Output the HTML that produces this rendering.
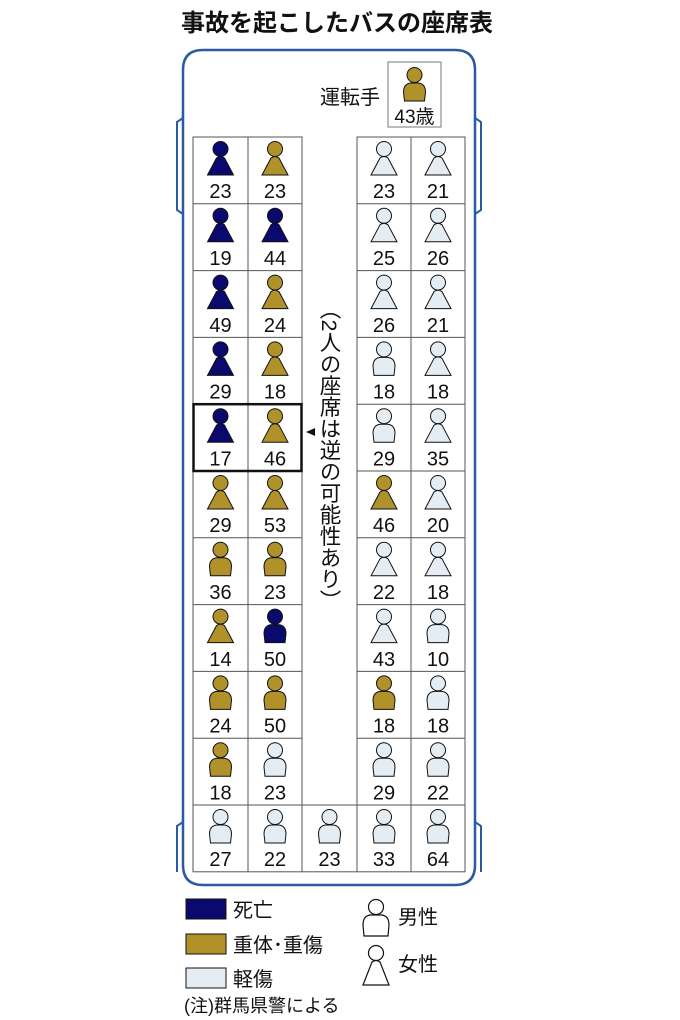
<!DOCTYPE html>
<html><head><meta charset="utf-8"><style>
html,body{margin:0;padding:0;background:#fff;}
body{width:680px;height:1020px;position:relative;overflow:hidden;font-family:"Liberation Sans","Noto Sans CJK JP",sans-serif;}
.v{position:absolute;left:316px;top:298px;writing-mode:vertical-rl;font-size:21.5px;line-height:26px;color:#111;font-family:"Liberation Sans","Noto Sans CJK JP",sans-serif;}
</style></head><body>
<svg width="680" height="1020" viewBox="0 0 680 1020" xmlns="http://www.w3.org/2000/svg" style="position:absolute;left:0;top:0">
<defs>
<g id="f"><circle cx="0" cy="12" r="7.5" stroke="#111" stroke-width="1"/><path d="M-13,38 L-4,21 Q0,18 4,21 L13,38 Z" stroke="#111" stroke-width="1"/></g>
<g id="m"><circle cx="0" cy="12" r="7.5" stroke="#111" stroke-width="1"/><path d="M-10,38 L-11,29 Q-11,21 -4,20 L4,20 Q11,21 11,29 L10,38 Z" stroke="#111" stroke-width="1"/></g>
</defs>
<text x="337" y="31" text-anchor="middle" font-size="24" font-weight="bold" fill="#111" font-family="Liberation Sans, Noto Sans CJK JP, sans-serif">事故を起こしたバスの座席表</text>
<!-- bus -->
<path d="M183,70 Q183,50 203,50 L455,50 Q475,50 475,70 L475,865 Q475,885 455,885 L203,885 Q183,885 183,865 Z" fill="none" stroke="#2a5aa0" stroke-width="2.5"/>
<path d="M183,118 L177,122 L177,210 L183,214" fill="none" stroke="#2a5aa0" stroke-width="2"/>
<path d="M475,118 L481,122 L481,210 L475,214" fill="none" stroke="#2a5aa0" stroke-width="2"/>
<path d="M183,822 L177,826 L177,872" fill="none" stroke="#2a5aa0" stroke-width="2"/>
<path d="M475,822 L481,826 L481,872" fill="none" stroke="#2a5aa0" stroke-width="2"/>
<!-- driver -->
<text x="380" y="104" text-anchor="end" font-size="20" fill="#111">運転手</text>
<rect x="388" y="62" width="53" height="65" fill="#fff" stroke="#777" stroke-width="1"/>
<use href="#m" x="414.5" y="63" fill="#b0912a"/>
<text x="414.5" y="123" text-anchor="middle" font-size="19" fill="#111">43歳</text>
<!-- grid -->
<g fill="none" stroke="#555" stroke-width="1">
<rect x="193" y="137" width="109" height="734.8"/>
<rect x="357" y="137" width="108" height="734.8"/>
<rect x="302" y="805" width="55" height="66.8"/>
<line x1="248" y1="137" x2="248" y2="871.8"/><line x1="411" y1="137" x2="411" y2="871.8"/>
<line x1="193" y1="203.8" x2="302" y2="203.8"/><line x1="357" y1="203.8" x2="465" y2="203.8"/>
<line x1="193" y1="270.6" x2="302" y2="270.6"/><line x1="357" y1="270.6" x2="465" y2="270.6"/>
<line x1="193" y1="337.4" x2="302" y2="337.4"/><line x1="357" y1="337.4" x2="465" y2="337.4"/>
<line x1="193" y1="404.2" x2="302" y2="404.2"/><line x1="357" y1="404.2" x2="465" y2="404.2"/>
<line x1="193" y1="471" x2="302" y2="471"/><line x1="357" y1="471" x2="465" y2="471"/>
<line x1="193" y1="537.8" x2="302" y2="537.8"/><line x1="357" y1="537.8" x2="465" y2="537.8"/>
<line x1="193" y1="604.6" x2="302" y2="604.6"/><line x1="357" y1="604.6" x2="465" y2="604.6"/>
<line x1="193" y1="671.4" x2="302" y2="671.4"/><line x1="357" y1="671.4" x2="465" y2="671.4"/>
<line x1="193" y1="738.2" x2="302" y2="738.2"/><line x1="357" y1="738.2" x2="465" y2="738.2"/>
<line x1="193" y1="805" x2="302" y2="805"/><line x1="357" y1="805" x2="465" y2="805"/>
</g>
<rect x="193.5" y="404.2" width="108" height="66.8" fill="none" stroke="#111" stroke-width="2.5"/>
<path d="M306,432 L315,428 L315,436 Z" fill="#111"/>
<!-- people -->
<g>
<use href="#f" x="220.5" y="137" fill="#0a0a6e"/><use href="#f" x="275" y="137" fill="#b0912a"/><use href="#f" x="384" y="137" fill="#e4ecf4"/><use href="#f" x="438" y="137" fill="#e4ecf4"/>
<use href="#f" x="220.5" y="203.8" fill="#0a0a6e"/><use href="#f" x="275" y="203.8" fill="#0a0a6e"/><use href="#f" x="384" y="203.8" fill="#e4ecf4"/><use href="#f" x="438" y="203.8" fill="#e4ecf4"/>
<use href="#f" x="220.5" y="270.6" fill="#0a0a6e"/><use href="#f" x="275" y="270.6" fill="#b0912a"/><use href="#f" x="384" y="270.6" fill="#e4ecf4"/><use href="#f" x="438" y="270.6" fill="#e4ecf4"/>
<use href="#f" x="220.5" y="337.4" fill="#0a0a6e"/><use href="#f" x="275" y="337.4" fill="#b0912a"/><use href="#m" x="384" y="337.4" fill="#e4ecf4"/><use href="#f" x="438" y="337.4" fill="#e4ecf4"/>
<use href="#f" x="220.5" y="404.2" fill="#0a0a6e"/><use href="#f" x="275" y="404.2" fill="#b0912a"/><use href="#m" x="384" y="404.2" fill="#e4ecf4"/><use href="#f" x="438" y="404.2" fill="#e4ecf4"/>
<use href="#f" x="220.5" y="471" fill="#b0912a"/><use href="#f" x="275" y="471" fill="#b0912a"/><use href="#f" x="384" y="471" fill="#b0912a"/><use href="#f" x="438" y="471" fill="#e4ecf4"/>
<use href="#m" x="220.5" y="537.8" fill="#b0912a"/><use href="#m" x="275" y="537.8" fill="#b0912a"/><use href="#f" x="384" y="537.8" fill="#e4ecf4"/><use href="#f" x="438" y="537.8" fill="#e4ecf4"/>
<use href="#f" x="220.5" y="604.6" fill="#b0912a"/><use href="#m" x="275" y="604.6" fill="#0a0a6e"/><use href="#f" x="384" y="604.6" fill="#e4ecf4"/><use href="#m" x="438" y="604.6" fill="#e4ecf4"/>
<use href="#m" x="220.5" y="671.4" fill="#b0912a"/><use href="#m" x="275" y="671.4" fill="#b0912a"/><use href="#m" x="384" y="671.4" fill="#b0912a"/><use href="#m" x="438" y="671.4" fill="#e4ecf4"/>
<use href="#m" x="220.5" y="738.2" fill="#b0912a"/><use href="#m" x="275" y="738.2" fill="#e4ecf4"/><use href="#m" x="384" y="738.2" fill="#e4ecf4"/><use href="#m" x="438" y="738.2" fill="#e4ecf4"/>
<use href="#m" x="220.5" y="805" fill="#e4ecf4"/><use href="#m" x="275" y="805" fill="#e4ecf4"/><use href="#m" x="329.5" y="805" fill="#e4ecf4"/><use href="#m" x="384" y="805" fill="#e4ecf4"/><use href="#m" x="438" y="805" fill="#e4ecf4"/>
</g>
<g font-size="20" fill="#111" text-anchor="middle" font-family="Liberation Sans, sans-serif">
<text x="220.5" y="198">23</text><text x="275" y="198">23</text><text x="384" y="198">23</text><text x="438" y="198">21</text>
<text x="220.5" y="265">19</text><text x="275" y="265">44</text><text x="384" y="265">25</text><text x="438" y="265">26</text>
<text x="220.5" y="332">49</text><text x="275" y="332">24</text><text x="384" y="332">26</text><text x="438" y="332">21</text>
<text x="220.5" y="398.5">29</text><text x="275" y="398.5">18</text><text x="384" y="398.5">18</text><text x="438" y="398.5">18</text>
<text x="220.5" y="465.5">17</text><text x="275" y="465.5">46</text><text x="384" y="465.5">29</text><text x="438" y="465.5">35</text>
<text x="220.5" y="532">29</text><text x="275" y="532">53</text><text x="384" y="532">46</text><text x="438" y="532">20</text>
<text x="220.5" y="599">36</text><text x="275" y="599">23</text><text x="384" y="599">22</text><text x="438" y="599">18</text>
<text x="220.5" y="666">14</text><text x="275" y="666">50</text><text x="384" y="666">43</text><text x="438" y="666">10</text>
<text x="220.5" y="732.5">24</text><text x="275" y="732.5">50</text><text x="384" y="732.5">18</text><text x="438" y="732.5">18</text>
<text x="220.5" y="799.5">18</text><text x="275" y="799.5">23</text><text x="384" y="799.5">29</text><text x="438" y="799.5">22</text>
<text x="220.5" y="866">27</text><text x="275" y="866">22</text><text x="329.5" y="866">23</text><text x="384" y="866">33</text><text x="438" y="866">64</text>
</g>
<!-- legend -->
<rect x="186" y="899" width="40" height="20" fill="#0a0a6e" stroke="#111"/>
<rect x="186" y="934" width="40" height="20" fill="#b0912a" stroke="#111"/>
<rect x="186" y="968" width="40" height="20" fill="#e4ecf4" stroke="#111"/>
<g font-size="20" fill="#111" font-family="Liberation Sans, Noto Sans CJK JP, sans-serif">
<text x="233" y="917">死亡</text>
<text x="233" y="952">重体･重傷</text>
<text x="233" y="986">軽傷</text>
<text x="398" y="924">男性</text>
<text x="398" y="971">女性</text>
<text x="184" y="1012" font-size="18">(注)群馬県警による</text>
</g>
<g fill="#fff" stroke="#111" stroke-width="1.2">
<circle cx="376" cy="907" r="7.5"/><path d="M364,936 L363,925 Q363,916 370,915 L382,915 Q389,916 389,925 L388,936 Z"/>
<circle cx="376" cy="953" r="7.5"/><path d="M363,985 L372,962 Q376,959 380,962 L389,985 Z"/>
</g>
</svg>
<div class="v">（2人の座席は逆の可能性あり）</div>
</body></html>
